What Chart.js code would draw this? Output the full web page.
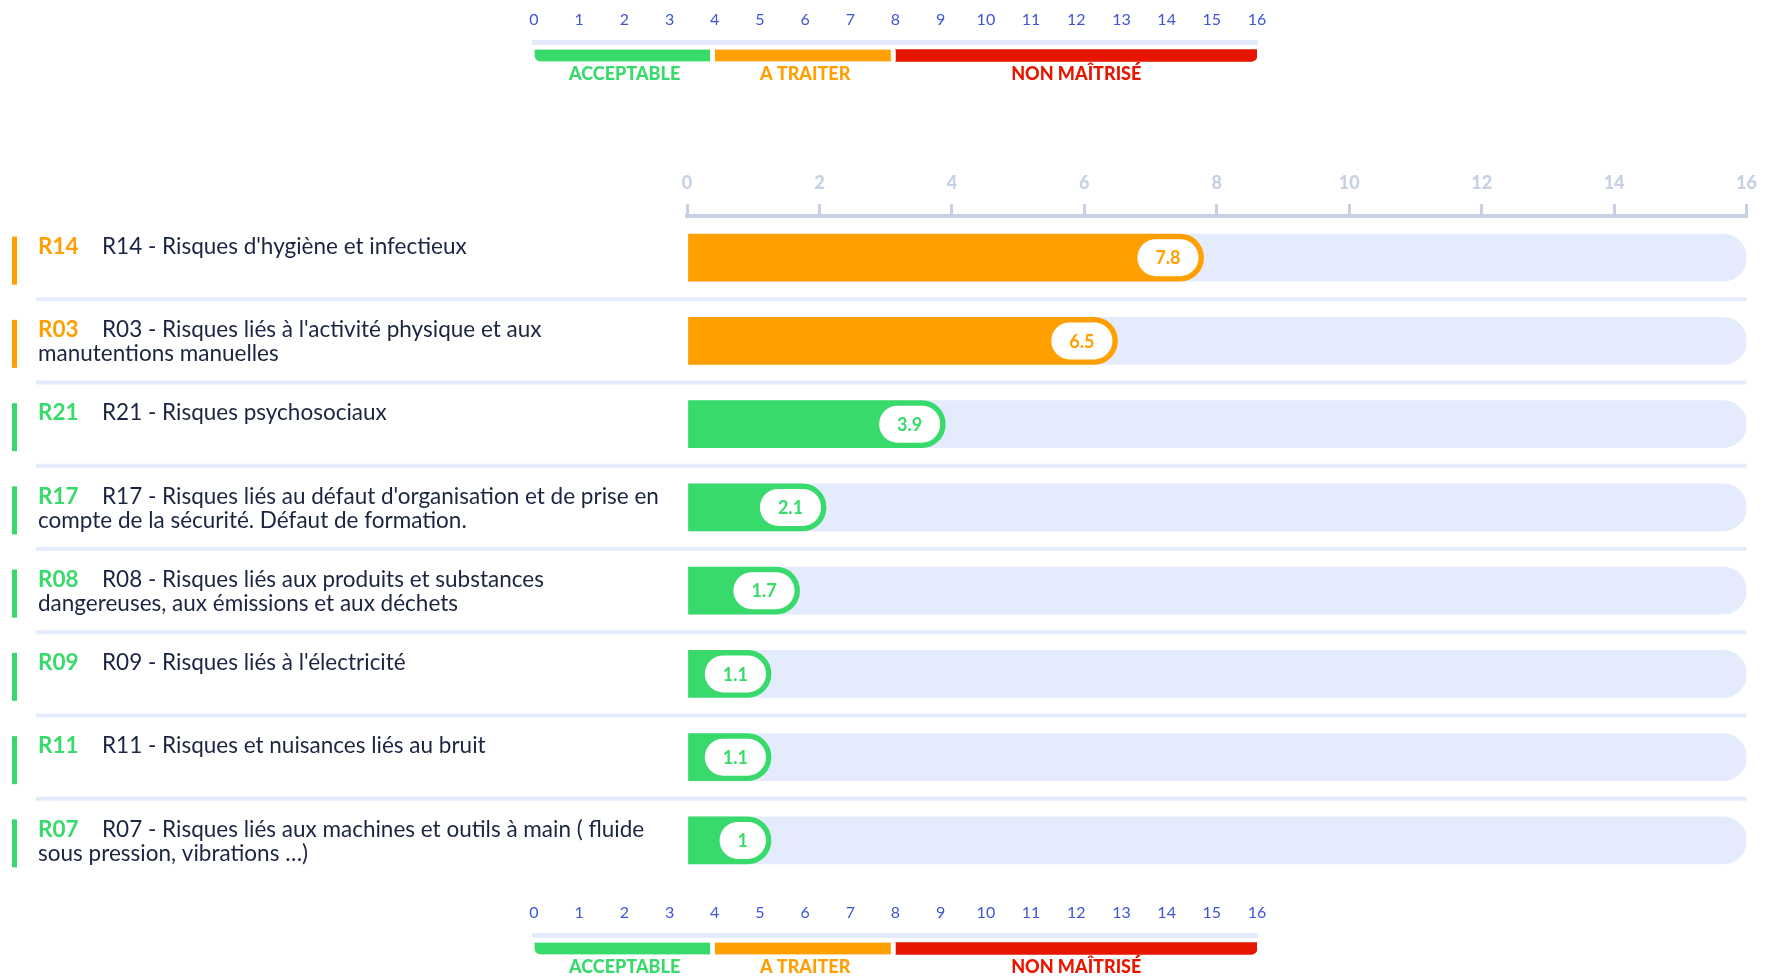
<!DOCTYPE html>
<html lang="fr">
<head>
<meta charset="utf-8">
<script src="https://cdn.jsdelivr.net/npm/chart.js@4.4.1/dist/chart.umd.min.js"></script>
<style>
  html, body { margin: 0; padding: 0; background: #fff; overflow: hidden; }
  body { width: 1767px; height: 977px; position: relative; }
  canvas { position: absolute; left: 0; }
</style>
</head>
<body>
<canvas id="mainChart" width="1767" height="977" style="top:0"></canvas>
<canvas id="legendTop" width="1767" height="100" style="top:0"></canvas>
<canvas id="legendBottom" width="1767" height="100" style="top:893px"></canvas>
<script>
  // ---------------------------------------------------------------
  // Data
  // ---------------------------------------------------------------
  const riskCodes = ["R14", "R03", "R21", "R17", "R08", "R09", "R11", "R07"];
  const riskTitles = [
    "R14 - Risques d'hygiène et infectieux",
    "R03 - Risques liés à l'activité physique et aux\nmanutentions manuelles",
    "R21 - Risques psychosociaux",
    "R17 - Risques liés au défaut d'organisation et de prise en\ncompte de la sécurité. Défaut de formation.",
    "R08 - Risques liés aux produits et substances\ndangereuses, aux émissions et aux déchets",
    "R09 - Risques liés à l'électricité",
    "R11 - Risques et nuisances liés au bruit",
    "R07 - Risques liés aux machines et outils à main ( fluide\nsous pression, vibrations …)"
  ];
  const riskValues = [7.8, 6.5, 3.9, 2.1, 1.7, 1.1, 1.1, 1];

  const scaleMax = 16;
  const levelNames = ["ACCEPTABLE", "A TRAITER", "NON MAÎTRISÉ"];
  const levelSpans = [4, 4, 8];        // 0-4, 4-8, 8-16
  const levelColors = ["#38DB6B", "#FF9F00", "#E81600"];

  const TRACK = "#E4EBFD";
  const AXIS = "#C8D0E5";
  const TEXT = "#1B2541";
  const FONT = "Lato, 'Open Sans', sans-serif";

  function levelColor(v) {
    let acc = 0;
    for (let i = 0; i < levelSpans.length; i++) {
      acc += levelSpans[i];
      if (v < acc) return levelColors[i];
    }
    return levelColors[levelColors.length - 1];
  }

  // ---------------------------------------------------------------
  // Legend scale (top + bottom)
  // ---------------------------------------------------------------
  const legendLabels = {
    id: "legendLabels",
    afterDatasetsDraw(chart) {
      const ctx = chart.ctx;
      ctx.save();
      ctx.font = "900 18px " + FONT;
      ctx.textAlign = "center";
      ctx.textBaseline = "middle";
      chart.data.datasets.forEach((ds, i) => {
        const el = chart.getDatasetMeta(i).data[0];
        ctx.fillStyle = levelColors[i];
        ctx.fillText(levelNames[i], (el.x + el.base) / 2, chart.chartArea.bottom + 5);
      });
      ctx.restore();
    }
  };

  function makeLegend(id) {
    const datasets = levelSpans.map((span, i) => ({
      label: levelNames[i],
      data: [span],
      backgroundColor: levelColors[i],
      borderColor: "#ffffff",
      borderWidth: i < levelSpans.length - 1 ? { right: 5, left: 0, top: 0, bottom: 0 } : 0,
      borderSkipped: false,
      borderRadius: i === 0 ? { bottomLeft: 12 } : (i === levelSpans.length - 1 ? { bottomRight: 12 } : 0),
      barThickness: 12
    }));

    return new Chart(document.getElementById(id), {
      type: "bar",
      data: { labels: [""], datasets },
      options: {
        indexAxis: "y",
        responsive: false,
        animation: false,
        events: [],
        layout: { padding: { left: 534, right: 510, top: 0, bottom: 31 } },
        plugins: { legend: { display: false }, tooltip: { enabled: false } },
        scales: {
          x: {
            position: "top",
            stacked: true,
            min: 0,
            max: scaleMax,
            afterFit(scale) { scale.height = 42; },
            grid: { display: true, drawOnChartArea: false, drawTicks: false },
            border: { display: true, color: TRACK, width: 5 },
            ticks: {
              stepSize: 1,
              autoSkip: false,
              maxRotation: 0,
              padding: 13,
              color: "#3E55D6",
              font: { family: FONT, size: 16 }
            }
          },
          y: { stacked: true, display: false }
        }
      },
      plugins: [legendLabels]
    });
  }

  makeLegend("legendTop");
  makeLegend("legendBottom");

  // ---------------------------------------------------------------
  // Main chart
  // ---------------------------------------------------------------
  const rowLabels = {
    id: "rowLabels",
    afterDraw(chart) {
      const ctx = chart.ctx;
      const yScale = chart.scales.y;
      const area = chart.chartArea;
      ctx.save();
      ctx.textBaseline = "middle";
      riskCodes.forEach((code, i) => {
        const yc = yScale.getPixelForValue(i);
        const col = levelColor(riskValues[i]);

        ctx.fillStyle = col;
        ctx.fillRect(12, yc - 21, 5, 48);

        ctx.font = "bold 22.5px " + FONT;
        ctx.fillText(code, 38, yc - 11);

        ctx.fillStyle = TEXT;
        ctx.font = "22.5px " + FONT;
        riskTitles[i].split("\n").forEach((line, k) => {
          ctx.fillText(line, k === 0 ? 102 : 38, yc - 11 + k * 24);
        });

        if (i < riskCodes.length - 1) {
          const ys = yScale.getPixelForValue(i + 0.5);
          ctx.fillStyle = TRACK;
          ctx.fillRect(36, ys - 2, area.right - 36, 4);
        }
      });
      ctx.restore();
    }
  };

  const valuePills = {
    id: "valuePills",
    afterDatasetsDraw(chart) {
      const ctx = chart.ctx;
      const meta = chart.getDatasetMeta(1);
      ctx.save();
      ctx.font = "bold 18px " + FONT;
      ctx.textAlign = "center";
      ctx.textBaseline = "middle";
      meta.data.forEach((el, i) => {
        const txt = String(riskValues[i]);
        const w = ctx.measureText(txt).width + 36;
        const h = 37;
        const x1 = el.x - 5;
        const x0 = x1 - w;
        ctx.fillStyle = "#ffffff";
        ctx.beginPath();
        ctx.roundRect(x0, el.y - h / 2, w, h, h / 2);
        ctx.fill();
        ctx.fillStyle = levelColor(riskValues[i]);
        ctx.fillText(txt, (x0 + x1) / 2, el.y + 1);
      });
      ctx.restore();
    }
  };

  new Chart(document.getElementById("mainChart"), {
    type: "bar",
    data: {
      datasets: [
        {
          label: "track",
          data: riskValues.map((v, i) => ({ x: scaleMax, y: i })),
          backgroundColor: TRACK,
          borderRadius: 24,
          borderSkipped: "start",
          barThickness: 47,
          grouped: false,
          order: 2
        },
        {
          label: "value",
          data: riskValues.map((v, i) => ({ x: v, y: i })),
          backgroundColor: riskValues.map(levelColor),
          borderRadius: 24,
          borderSkipped: "start",
          barThickness: 47,
          minBarLength: 84,
          grouped: false,
          order: 1
        }
      ]
    },
    options: {
      indexAxis: "y",
      responsive: false,
      animation: false,
      events: [],
      layout: { padding: { left: 687, right: 15, top: 155, bottom: 95 } },
      plugins: { legend: { display: false }, tooltip: { enabled: false } },
      scales: {
        x: {
          position: "top",
          min: 0,
          max: scaleMax,
          afterFit(scale) { scale.height = 61; },
          grid: { drawOnChartArea: false, drawTicks: true, tickLength: 12, color: AXIS, lineWidth: 3 },
          border: { display: true, color: AXIS, width: 4 },
          ticks: {
            stepSize: 2,
            maxRotation: 0,
            padding: 10,
            color: AXIS,
            font: { family: FONT, size: 18, weight: "900" }
          }
        },
        y: {
          type: "linear",
          reverse: true,
          offset: false,
          min: -0.5,
          max: 7.5,
          display: false
        }
      }
    },
    plugins: [rowLabels, valuePills]
  });
</script>
</body>
</html>
